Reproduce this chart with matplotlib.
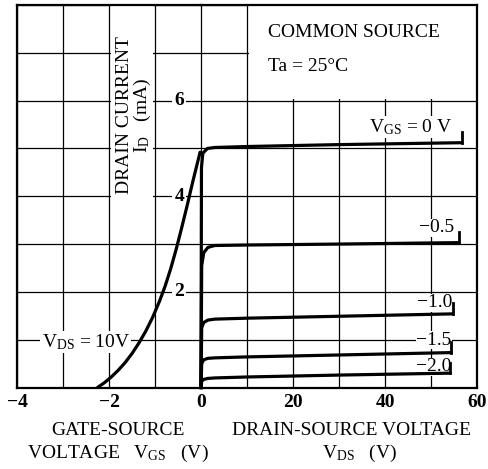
import matplotlib
matplotlib.use("Agg")
import matplotlib.pyplot as plt
from matplotlib.patches import Rectangle

plt.rcParams['font.family'] = ['Liberation Serif', 'DejaVu Serif']
plt.rcParams['mathtext.fontset'] = 'custom'
plt.rcParams['mathtext.rm'] = 'Liberation Serif'
plt.rcParams['mathtext.it'] = 'Liberation Serif'
plt.rcParams['mathtext.bf'] = 'Liberation Serif:bold'

# ---- data ----
# transfer characteristic, VDS = 10 V
vgs_transfer = [-2.25, -2.1, -1.95, -1.8, -1.65, -1.5, -1.35, -1.2, -1.05, -0.9,
                -0.78, -0.66, -0.54, -0.42, -0.3, -0.18, -0.02]
id_transfer = [0.0, 0.1, 0.22, 0.36, 0.52, 0.71, 0.93, 1.18, 1.47, 1.81,
               2.12, 2.48, 2.89, 3.34, 3.81, 4.3, 4.92]

# output characteristics
vgs_levels = ["0", "-0.5", "-1.0", "-1.5", "-2.0"]
curve_labels = [r"V$_{\mathrm{GS}}$ = 0 V", "\u22120.5", "\u22121.0", "\u22121.5", "\u22122.0"]
vds_0 = [0, 0.1, 0.4, 1.4, 3, 10, 30, 56.7]
id_0 = [0, 4.6, 4.9, 5.0, 5.02, 5.04, 5.08, 5.12]
vds_05 = [0, 0.15, 0.6, 1.5, 3, 10, 30, 56.0]
id_05 = [0, 2.55, 2.82, 2.93, 2.97, 2.98, 3.0, 3.03]
vds_10 = [0, 0.15, 0.6, 1.5, 3, 10, 30, 54.7]
id_10 = [0, 1.25, 1.36, 1.41, 1.43, 1.45, 1.49, 1.54]
vds_15 = [0, 0.15, 0.6, 1.5, 3, 10, 30, 54.4]
id_15 = [0, 0.5, 0.58, 0.61, 0.62, 0.64, 0.68, 0.73]
vds_20 = [0, 0.15, 0.6, 1.5, 3, 10, 30, 54.1]
id_20 = [0, 0.13, 0.17, 0.19, 0.2, 0.22, 0.26, 0.3]
output_vds = [vds_0, vds_05, vds_10, vds_15, vds_20]
output_id = [id_0, id_05, id_10, id_15, id_20]
label_pos = [(54.6, 5.45), (55.0, 3.34), (54.6, 1.77), (54.5, 0.99), (54.5, 0.43)]

vgs_ticks = [-4, -3, -2, -1, 0]
vgs_ticklabels = ["\u22124", "", "\u22122", "", "0"]
vds_ticks = [0, 10, 20, 30, 40, 50, 60]
vds_ticklabels = ["", "", "20", "", "40", "", "60"]
id_ticks = [0, 1, 2, 3, 4, 5, 6, 7, 8]
id_ticklabels_shown = [2, 4, 6]

# ---- figure ----
W, H = 488, 469
fig = plt.figure(figsize=(W / 100, H / 100), dpi=100)
L, R = 17 / W, 477 / W
B, T = 1 - 387.5 / H, 1 - 5 / H
x0 = L + (R - L) * 0.4
axL = fig.add_axes([L, B, x0 - L, T - B])
axR = fig.add_axes([x0, B, R - x0, T - B])

FS = 14
TFS = 14

for ax in (axL, axR):
    ax.set_ylim(0, 8)
    ax.set_yticks(id_ticks)
    ax.set_yticklabels([])
    ax.set_axisbelow(True)
    ax.grid(True, color='black', linewidth=0.9)
    ax.tick_params(length=0, pad=5)

axL.set_xlim(-4, 0)
axL.set_xticks(vgs_ticks)
axL.set_xticklabels(vgs_ticklabels, fontweight='bold', fontsize=TFS)
axR.set_xlim(0, 60)
axR.set_xticks(vds_ticks)
axR.set_xticklabels(vds_ticklabels, fontweight='bold', fontsize=TFS)

axL.spines['right'].set_visible(False)
axR.spines['left'].set_visible(False)
for ax in (axL, axR):
    for s in ax.spines.values():
        s.set_linewidth(1.6)

# white boxes
axL.add_patch(Rectangle((-1.96, 3.82), 0.92, 4.3, facecolor='white', edgecolor='none', zorder=1))
axR.add_patch(Rectangle((10.4, 6.04), 49.4, 2.0, facecolor='white', edgecolor='none', zorder=1))

# curves
axL.plot(vgs_transfer, id_transfer, color='black', linewidth=2.3, zorder=6,
         solid_capstyle='round', solid_joinstyle='round', clip_on=False)
for vds, idv, lab, (lx, ly) in zip(output_vds, output_id, curve_labels, label_pos):
    axR.plot(vds, idv, color='black', linewidth=2.3, zorder=6, solid_joinstyle='round',
             clip_on=False)
    axR.plot([vds[-1], vds[-1]], [idv[-1], idv[-1] + 0.22], color='black', linewidth=2.0, zorder=6)
    axR.text(lx, ly, lab, ha='right', va='center', fontsize=FS, zorder=5,
             bbox=dict(facecolor='white', edgecolor='none', pad=0.5))

# y tick labels inside
for v in id_ticklabels_shown:
    axL.text(-0.47, v, str(v), ha='center', va='center', fontsize=TFS, fontweight='bold',
             zorder=5, bbox=dict(facecolor='white', edgecolor='none', pad=1.5))

# y label
axL.text(-1.66, 5.7, "DRAIN CURRENT", rotation=90, ha='center', va='center', fontsize=FS, zorder=5)
axL.text(-1.27, 5.7, r"I$_{\mathrm{D}}$   (mA)", rotation=90, ha='center', va='center',
         fontsize=FS, zorder=5)

axL.text(-3.46, 0.95, r"V$_{\mathrm{DS}}$ = 10V", ha='left', va='center', fontsize=FS, zorder=5,
         bbox=dict(facecolor='white', edgecolor='none', pad=1.0))

axR.text(14.5, 7.42, "COMMON SOURCE", ha='left', va='center', fontsize=FS, zorder=5)
axR.text(14.5, 6.72, "Ta = 25\u00b0C", ha='left', va='center', fontsize=FS, zorder=5)

# x labels
fig.text(118 / W, 1 - 430 / H, "GATE-SOURCE", ha='center', va='center', fontsize=FS)
fig.text(118 / W, 1 - 453 / H, r"VOLTAGE   V$_{\mathrm{GS}}$   (V)", ha='center', va='center', fontsize=FS)
fig.text(351 / W, 1 - 430 / H, "DRAIN-SOURCE VOLTAGE", ha='center', va='center', fontsize=FS)
fig.text(360 / W, 1 - 453 / H, r"V$_{\mathrm{DS}}$   (V)", ha='center', va='center', fontsize=FS)

fig.savefig("out.png", dpi=100)
